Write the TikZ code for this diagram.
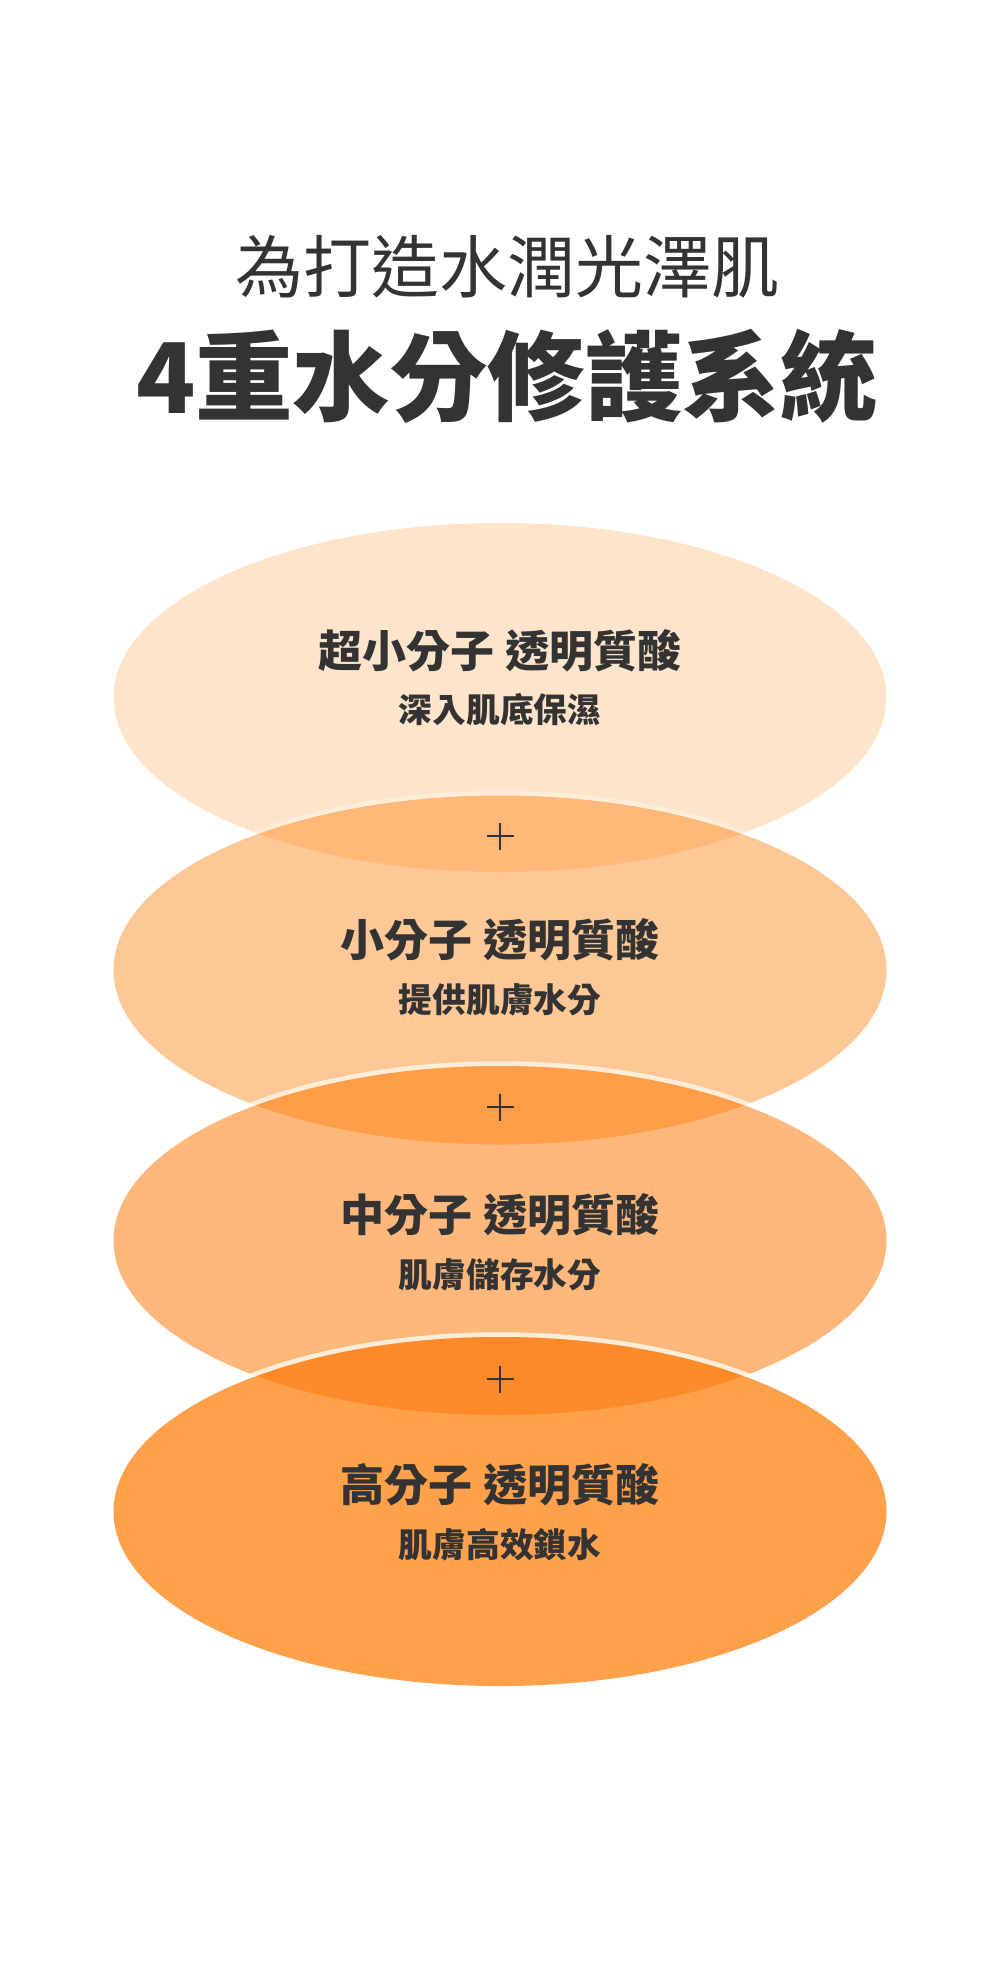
\documentclass[tikz,border=0pt]{standalone}
\usepackage{fontspec}
\setmainfont{Noto Sans CJK TC}
\definecolor{ink}{HTML}{333333}
\definecolor{cA}{HTML}{FEE4CA}
\definecolor{cB}{HTML}{FEC896}
\definecolor{cC}{HTML}{FEB77A}
\definecolor{cD}{HTML}{FFA04A}
\definecolor{cAB}{HTML}{FFB878}
\definecolor{cBC}{HTML}{FF9E48}
\definecolor{cCD}{HTML}{FF8A2A}
\definecolor{ringc}{HTML}{FCEDD9}
\tikzset{
  maintitle/.style={text=ink, inner sep=0pt, font=\fontsize{68}{80}\selectfont},
  bigtitle/.style={text=ink, inner sep=0pt, font=\bfseries\fontsize{97.5}{110}\selectfont},
  elltitle/.style={text=ink, inner sep=0pt, font=\bfseries\fontsize{44}{52}\selectfont},
  ellsub/.style={text=ink, inner sep=0pt, font=\bfseries\fontsize{33.7}{40}\selectfont},
  plussign/.style={draw=ink, line width=2.2pt},
  ringline/.style={draw=ringc, line width=4.5pt}
}
\newcommand{\ellA}{(500,697.5) ellipse [x radius=386.5pt, y radius=174.5pt]}
\newcommand{\ellB}{(500,970) ellipse [x radius=386.5pt, y radius=174.5pt]}
\newcommand{\ellC}{(500,1240.5) ellipse [x radius=386.5pt, y radius=174.5pt]}
\newcommand{\ellD}{(500,1511.5) ellipse [x radius=386.5pt, y radius=174.5pt]}
\newcommand{\ringB}{(500,970) ellipse [x radius=389pt, y radius=177pt]}
\newcommand{\ringC}{(500,1240.5) ellipse [x radius=389pt, y radius=177pt]}
\newcommand{\ringD}{(500,1511.5) ellipse [x radius=389pt, y radius=177pt]}
\begin{document}
\begin{tikzpicture}[x=1pt,y=-1pt]
\fill[white] (0,0) rectangle (1000,1968);
\useasboundingbox (0,0) rectangle (1000,1968);
% ellipse 1
\fill[cA] \ellA;
% ellipse 2
\fill[cB] \ellB;
\begin{scope}\clip \ellA; \fill[cAB] \ellB; \draw[ringline] \ringB; \end{scope}
% ellipse 3
\fill[cC] \ellC;
\begin{scope}\clip \ellB; \fill[cBC] \ellC; \draw[ringline] \ringC; \end{scope}
% ellipse 4
\fill[cD] \ellD;
\begin{scope}\clip \ellC; \fill[cCD] \ellD; \draw[ringline] \ringD; \end{scope}

\node[maintitle] (title1) at (507,267) {為打造水潤光澤肌};
\node[bigtitle] (title2) at (507,376) {4重水分修護系統};

\node[elltitle] (t1) at (500,651) {超小分子 透明質酸};
\node[ellsub] (s1) at (500,710) {深入肌底保濕};
\node[elltitle] (t2) at (500,940) {小分子 透明質酸};
\node[ellsub] (s2) at (500,1000) {提供肌膚水分};
\node[elltitle] (t3) at (500,1215) {中分子 透明質酸};
\node[ellsub] (s3) at (500,1275) {肌膚儲存水分};
\node[elltitle] (t4) at (500,1485) {高分子 透明質酸};
\node[ellsub] (s4) at (500,1545) {肌膚高效鎖水};

\coordinate (p1) at (500,836);
\coordinate (p2) at (500,1107);
\coordinate (p3) at (500,1379);
\foreach \p in {p1,p2,p3}{
  \draw[plussign] ([xshift=-13.5pt]\p) -- ([xshift=13.5pt]\p);
  \draw[plussign] ([yshift=-13.5pt]\p) -- ([yshift=13.5pt]\p);
}
\end{tikzpicture}
\end{document}
